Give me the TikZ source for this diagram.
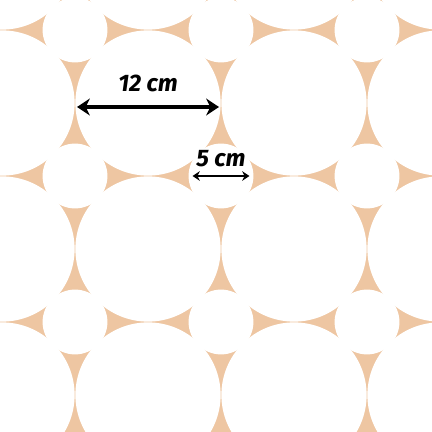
\documentclass[tikz,border=0pt]{standalone}
\usepackage{fontspec}
\setsansfont{Fira Sans}
\usepackage{xcolor}
\usetikzlibrary{arrows.meta}
\definecolor{peach}{RGB}{238,198,162}

\begin{document}
\begin{tikzpicture}[x=0.025cm,y=-0.025cm,
    bigdisc/.style={circle,fill=white,inner sep=0pt,outer sep=0pt,minimum size=3.63cm},
    smalldisc/.style={circle,fill=white,inner sep=0pt,outer sep=0pt,minimum size=1.62cm},
    sizelabel/.style={font=\sffamily\bfseries\itshape\fontsize{17}{17}\selectfont,inner sep=0pt}]
    % Peach ground, cut to the frame
    \useasboundingbox (0,0) rectangle (432,432);
    \clip (0,0) rectangle (432,432);
    \fill[peach] (0,0) rectangle (432,432);
    \foreach \i in {0,...,3} {
        \foreach \j in {0,...,4} {
            % Large disc between four grid points
            \node[bigdisc] (big-\i-\j) at (2+146*\i, -43+146*\j) {};
            % Small disc on the grid point
            \node[smalldisc] (small-\i-\j) at (-71+146*\i, -116+146*\j) {};
        }
    }
    % Diameter of the large disc
    \draw[line width=2.6pt, shorten <=0.04cm, shorten >=0.04cm,
          {Stealth[length=3.2mm,width=4.2mm,inset=1mm]}-{Stealth[length=3.2mm,width=4.2mm,inset=1mm]}]
        ([yshift=-1mm]big-1-1.west) -- node[sizelabel,above=0.32cm] {12 cm} ([yshift=-1mm]big-1-1.east);
    % Diameter of the small disc
    \draw[line width=1.2pt, shorten <=0.1cm, shorten >=0.1cm,
          {Stealth[length=1.8mm,width=2.4mm,inset=0.6mm]}-{Stealth[length=1.8mm,width=2.4mm,inset=0.6mm]}]
        (small-2-2.west) -- node[sizelabel,above=0.2cm] {5 cm} (small-2-2.east);

\end{tikzpicture}
\end{document}
